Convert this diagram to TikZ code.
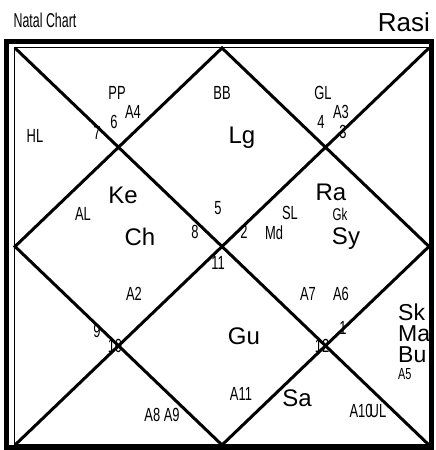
\documentclass[tikz,border=0pt]{standalone}
\usepackage{fontspec}
\setmainfont{Liberation Sans}
\newfontfamily\narrowfont[FakeStretch=0.68]{Liberation Sans}
\newfontfamily\titlefont[FakeStretch=0.62]{Liberation Sans}
\tikzset{
  small/.style={font=\narrowfont\fontsize{19}{19}\selectfont, inner sep=0pt},
  big/.style={font=\fontsize{24}{24}\selectfont, inner sep=0pt},
  stack/.style={font=\fontsize{23}{23}\selectfont, inner sep=0pt, anchor=west},
  chart/.style={line width=3pt}
}
\begin{document}
\begin{tikzpicture}[x=1pt,y=-1pt]
\useasboundingbox (0,0) rectangle (436,450);
% frame
\draw[line width=5pt] (6.5,41.5) rectangle (431.5,447);
\draw[line width=1.5pt] (14.5,47.5) rectangle (429.5,445);
% corners and midpoints
\coordinate (tl) at (15,48);
\coordinate (tr) at (429,48);
\coordinate (bl) at (15,445);
\coordinate (br) at (429,445);
\coordinate (tm) at (222,48);
\coordinate (bm) at (222,445);
\coordinate (lm) at (15,246.5);
\coordinate (rm) at (429,246.5);
\draw[chart] (tl) -- (br);
\draw[chart] (tr) -- (bl);
\draw[chart] (tm) -- (rm) -- (bm) -- (lm) -- cycle;

% titles
\node[font=\titlefont\fontsize{20}{20}\selectfont, inner sep=0pt] (title) at (45,20) {Natal Chart};
\node[font=\fontsize{26}{26}\selectfont, inner sep=0pt, anchor=east] (rasi) at (430,22) {Rasi};

% upper houses
\node[small] (pp) at (117,93) {PP};
\node[small] (a4) at (133,112) {A4};
\node[small] (h6) at (114,122) {6};
\node[small] (h7) at (97,133) {7};
\node[small] (hl) at (35,136) {HL};
\node[small] (bb) at (222,93) {BB};
\node[big] (lg) at (242,138) {Lg};
\node[small] (gl) at (323,93) {GL};
\node[small] (a3) at (341,112) {A3};
\node[small] (h4) at (321,122) {4};
\node[small] (h3) at (343,132) {3};

% middle houses
\node[big] (ke) at (123,195) {Ke};
\node[small] (al) at (83,214) {AL};
\node[big] (ch) at (140,237) {Ch};
\node[small] (h5) at (218,208) {5};
\node[small] (h8) at (195,232) {8};
\node[small] (h2) at (244,232) {2};
\node[big] (ra) at (331,192) {Ra};
\node[small] (sl) at (290,213) {SL};
\node[small, font=\narrowfont\fontsize{17}{17}\selectfont] (gk) at (340,214.5) {Gk};
\node[small] (md) at (274,233) {Md};
\node[big] (sy) at (346,239) {Sy};
\node[small] (h11) at (218,263) {11};

% lower houses
\node[small] (a2) at (134,294) {A2};
\node[small] (a7) at (308,294) {A7};
\node[small] (a6) at (341,294) {A6};
\node[small] (h9) at (97,331) {9};
\node[small] (h10) at (115,346) {10};
\node[big] (gu) at (244,336) {Gu};
\node[small] (h12) at (322,346) {12};
\node[small] (h1) at (343,328) {1};
\node[stack] (sk) at (398,312) {Sk};
\node[stack] (ma) at (398,334) {Ma};
\node[stack] (bu) at (398,355) {Bu};
\node[small, anchor=west, font=\narrowfont\fontsize{16}{16}\selectfont] (a5) at (398,374) {A5};
\node[small] (a11) at (241,394) {A11};
\node[big] (sa) at (297,398) {Sa};
\node[small] (a8) at (162,415) {A8 A9};
\node[small] (a10) at (361,411) {A10};
\node[small] (ul) at (378,411) {UL};
\end{tikzpicture}
\end{document}
